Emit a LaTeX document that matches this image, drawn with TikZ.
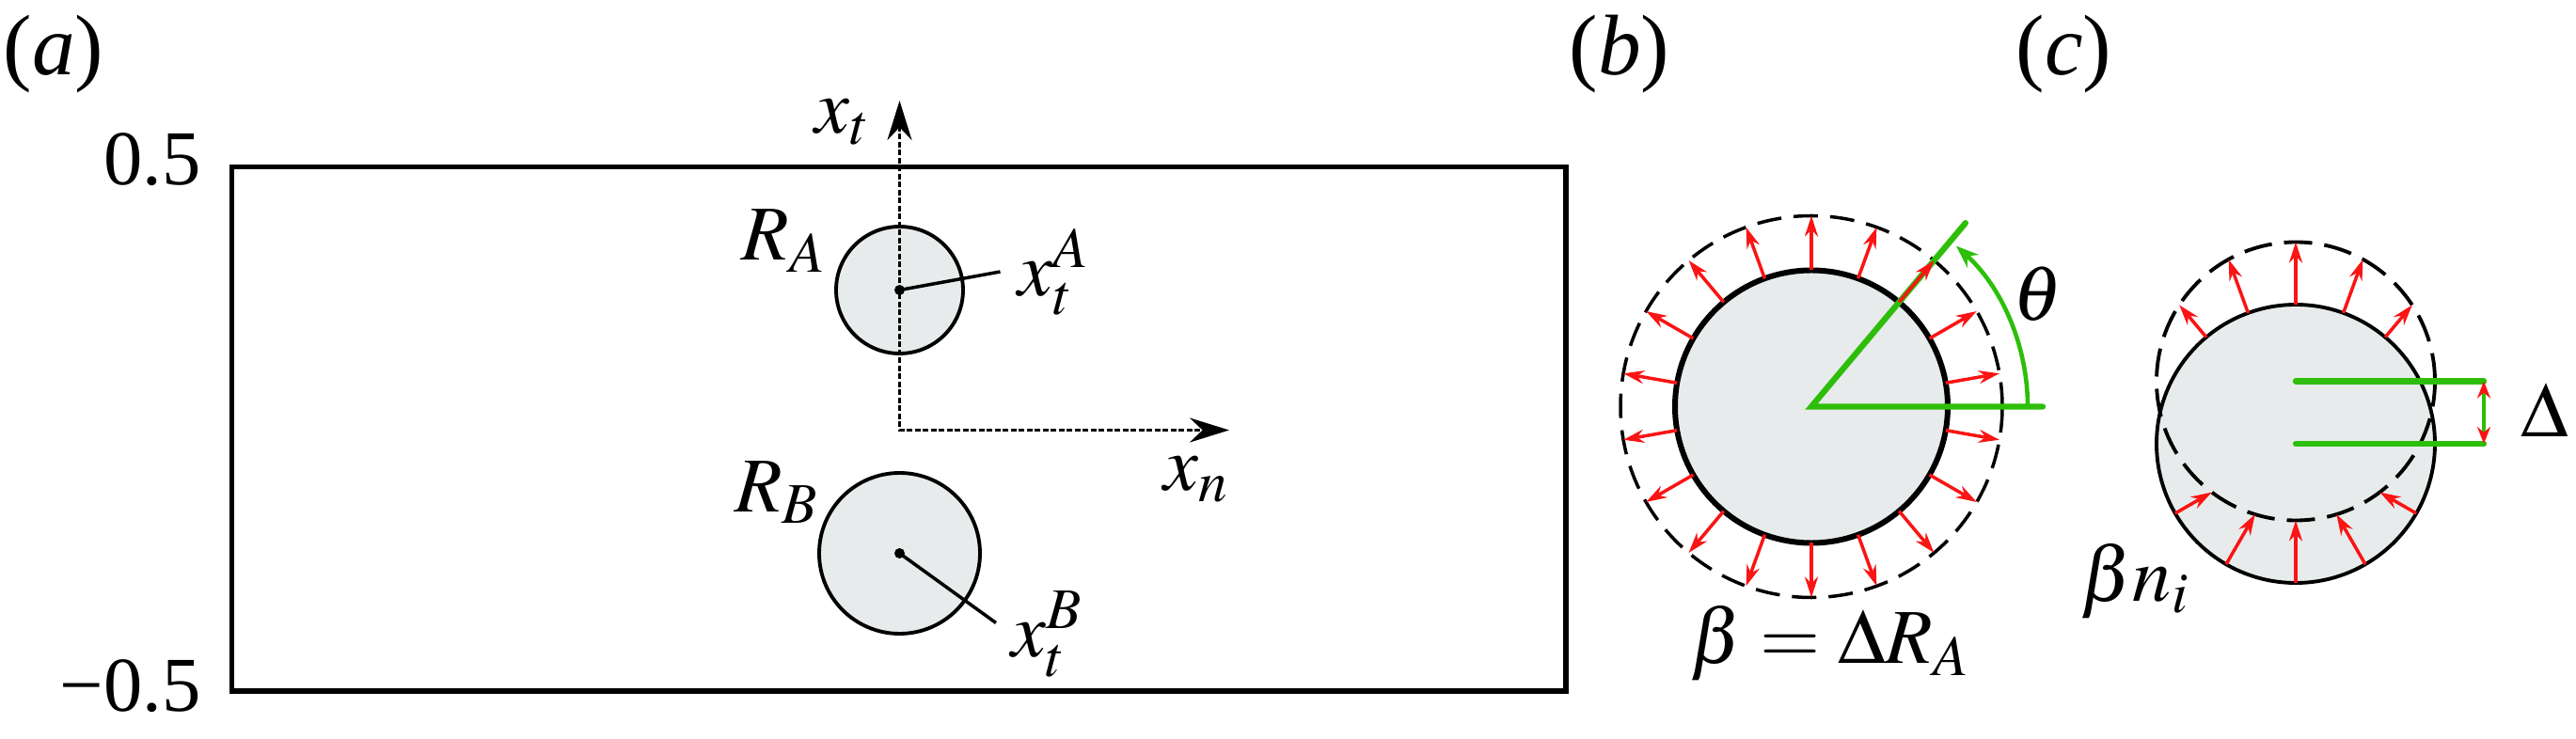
\documentclass[tikz,border=0pt]{standalone}
\usepackage{mathptmx}
\usepackage{fontspec}
\setmainfont{Liberation Serif}
\usetikzlibrary{arrows.meta}
\definecolor{discgray}{RGB}{232,235,236}
\definecolor{arcgreen}{RGB}{45,190,10}
\definecolor{normred}{RGB}{250,20,20}

\begin{document}
\begin{tikzpicture}[x=1mm, y=1mm,
  lab/.style = {inner sep=0pt, font=\fontsize{23.5}{28}\selectfont},
  panel/.style = {inner sep=0pt, font=\fontsize{26}{31}\selectfont},
  disc/.style = {draw, circle, fill=discgray, line width=1.1pt, inner sep=0pt},
  dot/.style = {fill, circle, inner sep=0pt, minimum size=1.1mm},
  axis/.style = {line width=0.95pt, dash pattern=on 0.6mm off 0.25mm},
  lead/.style = {line width=1pt},
  normal/.style = {normred, line width=1pt, -{Stealth[length=2.2mm, width=1.4mm]}},
  guide/.style = {arcgreen, line width=1.8pt, line cap=round},
  shifted/.style = {line width=1.1pt, dash pattern=on 3mm off 1.3mm}]
  \useasboundingbox (0,0) rectangle (273.9,78.5);
  % (a) channel with the two particles
  \node[panel] (la) at (5.7,72.7) {(\textit{a})};
  \draw[line width=1.6pt] (24.65,5) rectangle (166.5,60.75);
  \node[lab, anchor=east] (top) at (21.4,61.5) {0.5};
  \node[lab, anchor=east] (bot) at (21.4,5.5) {−0.5};
  \node[disc, minimum size=13.5mm] (A) at (95.65,47.65) {};
  \node[disc, minimum size=17.1mm] (B) at (95.65,19.65) {};
  \node[dot] (cA) at (A.center) {};
  \node[dot] (cB) at (B.center) {};
  \coordinate (tA) at (106.35,49.6);
  \coordinate (tB) at (105.9,12.25);
  \draw[lead] (cA.center) -- (tA);
  \draw[lead] (cB.center) -- (tB);
  \coordinate (O) at (95.65,32.75);
  \coordinate (tipT) at (95.65,67.8);
  \coordinate (tipN) at (130.7,32.75);
  \draw[axis, {Stealth[length=4.2mm, width=2.6mm]}-{Stealth[length=4.2mm, width=2.6mm]}] (tipT) -- (O) -- (tipN);
  \node[lab] (xt) at (89.6,65.5) {$x_t$};
  \node[lab] (RA) at (83.35,52.9) {$R_A$};
  \node[lab] (xtA) at (112.1,49.55) {$x_t^A$};
  \node[lab] (xn) at (127.2,27.5) {$x_n$};
  \node[lab] (RB) at (82.6,26.1) {$R_B$};
  \node[lab] (xtB) at (111.35,11.05) {$x_t^B$};
  % (b) uniform growth
  \node[panel] (lb) at (172.2,72.7) {(\textit{b})};
  \coordinate (Cb) at (192.6,35.25);
  \draw[line width=1pt, dash pattern=on 2.6mm off 1.3mm] (Cb) circle (20.3);
  \node[disc, minimum size=29mm, line width=1.7pt] (core) at (Cb) {};
  \coordinate (hEnd) at (217.2,35.25);
  \coordinate (rEnd) at ([shift={(50:25.5)}]Cb);
  \draw[guide] (hEnd) -- (Cb) -- (rEnd);
  \foreach \a in {10,30,...,350}
    \draw[normal] ([shift={(\a:14.5)}]Cb) -- ([shift={(\a:20.3)}]Cb);
  \draw[arcgreen, line width=1.3pt, -{Stealth[length=2.4mm, width=1.8mm]}] ([shift={(0:23)}]Cb) arc (0:48:23);
  \node[lab] (th) at (216.7,47.2) {$\theta$};
  \node[lab] (beta) at (194.6,10.1) {$\beta = \Delta R_A$};
  % (c) shift by Delta
  \node[panel] (lc) at (219.45,72.7) {(\textit{c})};
  \coordinate (Cs) at (244.1,31.3);
  \coordinate (Cd) at (244.1,37.95);
  \node[disc, minimum size=29.6mm] (moved) at (Cs) {};
  \draw[shifted] (Cd) circle (14.8);
  \foreach \a in {50,70,90,110,130,210,240,270,300,330}{
    \pgfmathsetmacro{\s}{6.65*sin(\a)+sqrt(14.8^2-(6.65*cos(\a))^2)}
    \draw[normal] ([shift={(\a:14.8)}]Cs) -- ([shift={(\a:\s)}]Cs);
  }
  \coordinate (gTop) at (264.1,37.95);
  \coordinate (gBot) at (264.1,31.3);
  \draw[guide] (Cd) -- (gTop);
  \draw[guide] (Cs) -- (gBot);
  \draw[arcgreen, line width=1.3pt, {Stealth[normred, length=1.8mm, width=1.4mm]}-{Stealth[normred, length=1.8mm, width=1.4mm]}] (gTop) -- (gBot);
  \node[lab] (del) at (270.6,34.9) {$\Delta$};
  \node[lab] (bn) at (227.0,16.7) {$\beta n_i$};
\end{tikzpicture}
\end{document}
